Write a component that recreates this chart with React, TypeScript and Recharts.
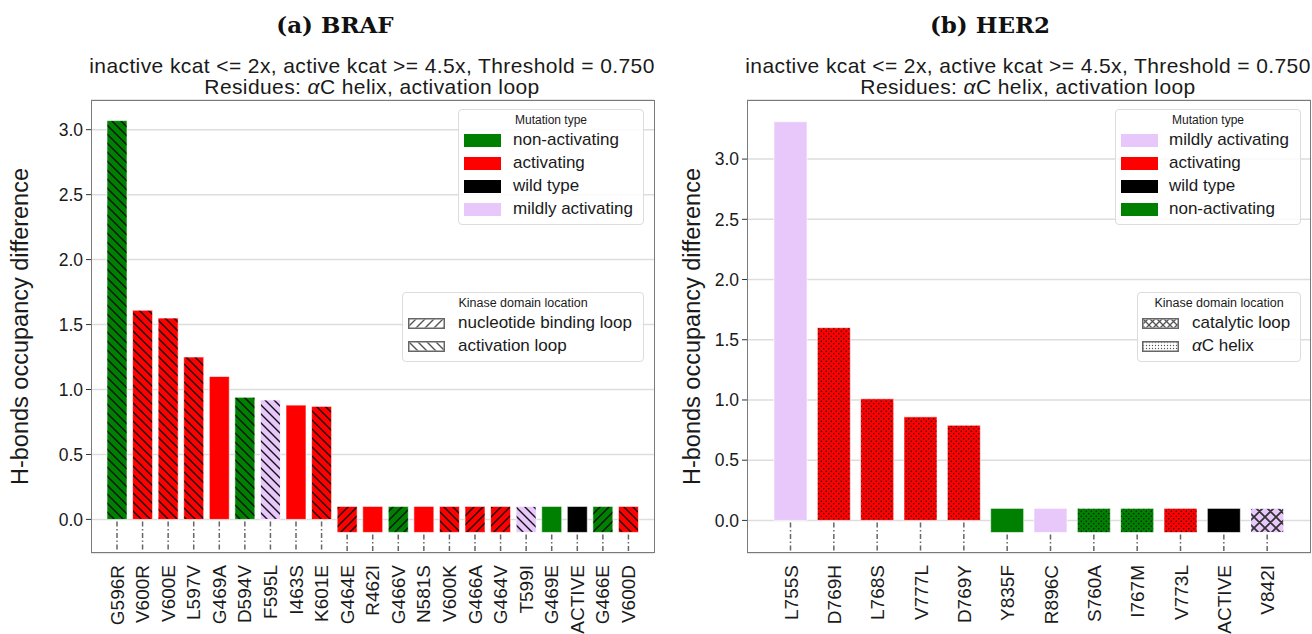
import React from 'react';
import { BarChart, Bar, XAxis, YAxis, CartesianGrid } from 'recharts';

// ---------------- DATA ----------------
const brafCategories = ['G596R', 'V600R', 'V600E', 'L597V', 'G469A', 'D594V', 'F595L', 'I463S', 'K601E', 'G464E', 'R462I', 'G466V', 'N581S', 'V600K', 'G466A', 'G464V', 'T599I', 'G469E', 'ACTIVE', 'G466E', 'V600D'];
const brafTop = [3.07, 1.61, 1.55, 1.25, 1.1, 0.94, 0.92, 0.88, 0.87, 0.1, 0.1, 0.1, 0.1, 0.1, 0.1, 0.1, 0.1, 0.1, 0.1, 0.1, 0.1];
const brafBottom = [0, 0, 0, 0, 0, 0, 0, 0, 0, -0.1, -0.1, -0.1, -0.1, -0.1, -0.1, -0.1, -0.1, -0.1, -0.1, -0.1, -0.1];
const brafType = ['non-activating', 'activating', 'activating', 'activating', 'activating', 'non-activating', 'mildly activating', 'activating', 'activating', 'activating', 'activating', 'non-activating', 'activating', 'activating', 'activating', 'activating', 'mildly activating', 'non-activating', 'wild type', 'non-activating', 'activating'];
const brafLocation = ['activation loop', 'activation loop', 'activation loop', 'activation loop', 'none', 'activation loop', 'activation loop', 'none', 'activation loop', 'nucleotide binding loop', 'none', 'nucleotide binding loop', 'none', 'activation loop', 'nucleotide binding loop', 'nucleotide binding loop', 'activation loop', 'none', 'none', 'nucleotide binding loop', 'activation loop'];

const her2Categories = ['L755S', 'D769H', 'L768S', 'V777L', 'D769Y', 'Y835F', 'R896C', 'S760A', 'I767M', 'V773L', 'ACTIVE', 'V842I'];
const her2Top = [3.31, 1.6, 1.01, 0.86, 0.79, 0.1, 0.1, 0.1, 0.1, 0.1, 0.1, 0.1];
const her2Bottom = [0, 0, 0, 0, 0, -0.1, -0.1, -0.1, -0.1, -0.1, -0.1, -0.1];
const her2Type = ['mildly activating', 'activating', 'activating', 'activating', 'activating', 'non-activating', 'mildly activating', 'non-activating', 'non-activating', 'activating', 'wild type', 'mildly activating'];
const her2Location = ['none', 'αC helix', 'αC helix', 'αC helix', 'αC helix', 'none', 'none', 'αC helix', 'αC helix', 'αC helix', 'none', 'catalytic loop'];

const yTicks = [0, 0.5, 1.0, 1.5, 2.0, 2.5, 3.0];
const brafDomain = [-0.2585, 3.2285];
const her2Domain = [-0.2705, 3.4905];

const brafTypeLegend = ['non-activating', 'activating', 'wild type', 'mildly activating'];
const brafLocLegend = ['nucleotide binding loop', 'activation loop'];
const her2TypeLegend = ['mildly activating', 'activating', 'wild type', 'non-activating'];
const her2LocLegend = ['catalytic loop', 'αC helix'];

const subtitle1 = 'inactive kcat <= 2x, active kcat >= 4.5x, Threshold = 0.750';
const yLabel = 'H-bonds occupancy difference';

// ---------------- STYLE ----------------
const FONT = '"Liberation Sans", Arial, Helvetica, sans-serif';
const TEXT = '#1a1a1a';
const COLORS: Record<string, string> = {
  'non-activating': '#008000',
  activating: '#ff0000',
  'wild type': '#000000',
  'mildly activating': '#e8c8fb',
};
const PATTERNS: Record<string, string> = {
  'nucleotide binding loop': 'hatchFwd',
  'activation loop': 'hatchBack',
  'catalytic loop': 'crossHatch',
  'αC helix': 'dots',
};

const buildRows = (cats: string[], top: number[], bottom: number[], type: string[], loc: string[]) =>
  cats.map((name, i) => ({ name, range: [bottom[i], top[i]], type: type[i], location: loc[i] }));

const brafData = buildRows(brafCategories, brafTop, brafBottom, brafType, brafLocation);
const her2Data = buildRows(her2Categories, her2Top, her2Bottom, her2Type, her2Location);

const BarShape = (props: any) => {
  const { x, y, width, height, payload, background } = props;
  const top = Math.min(y, y + height);
  const h = Math.abs(height);
  const bottom = top + h;
  const plotBottom = background ? background.y + background.height : bottom + 30;
  const cx = x + width / 2;
  const pat = PATTERNS[payload.location];
  return (
    <g>
      <rect x={x} y={top} width={width} height={h} fill={COLORS[payload.type]} stroke="rgba(255,255,255,0.6)" strokeWidth={1} />
      {pat && <rect x={x + 0.5} y={top + 0.5} width={Math.max(0, width - 1)} height={Math.max(0, h - 1)} fill={`url(#${pat})`} />}
      <line x1={cx} x2={cx} y1={bottom + 2} y2={plotBottom} stroke="#666" strokeWidth={1.5} strokeDasharray="5 2.5 1.5 2.5" />
    </g>
  );
};

const XTick = (props: any) => {
  const { x, y, payload } = props;
  return (
    <text x={0} y={0} transform={`translate(${x},${y}) rotate(-90)`} textAnchor="end" dy="0.36em" fontSize={19} fill={TEXT} fontFamily={FONT}>
      {payload.value}
    </text>
  );
};

const YLabel = (cx: number) => (props: any) => {
  const vb = props.viewBox || { y: 100, height: 453 };
  const cy = vb.y + vb.height / 2;
  return (
    <text x={cx} y={cy} transform={`rotate(-90, ${cx}, ${cy})`} textAnchor="middle" fontSize={23.5} fill={TEXT} fontFamily={FONT}>
      {yLabel}
    </text>
  );
};

const Defs = () => (
  <svg width={0} height={0} style={{ position: 'absolute' }}>
    <defs>
      <pattern id="hatchFwd" patternUnits="userSpaceOnUse" width={9} height={9}>
        <path d="M0,9 L9,0 M-1,1 L1,-1 M8,10 L10,8" stroke="#111" strokeWidth={1.4} />
      </pattern>
      <pattern id="hatchBack" patternUnits="userSpaceOnUse" width={9} height={9}>
        <path d="M0,0 L9,9 M-1,8 L1,10 M8,-1 L10,1" stroke="#111" strokeWidth={1.4} />
      </pattern>
      <pattern id="crossHatch" patternUnits="userSpaceOnUse" width={11} height={11}>
        <path d="M0,0 L11,11 M11,0 L0,11 M-1,10 L1,12 M10,-1 L12,1 M-1,1 L1,-1 M10,12 L12,10" stroke="#333" strokeWidth={1.8} />
      </pattern>
      <pattern id="dots" patternUnits="userSpaceOnUse" width={5} height={5}>
        <circle cx={1.25} cy={1.25} r={0.75} fill="#111" />
        <circle cx={3.75} cy={3.75} r={0.75} fill="#111" />
      </pattern>
      <pattern id="hatchFwdL" patternUnits="userSpaceOnUse" width={9} height={9}>
        <path d="M0,9 L9,0 M-1,1 L1,-1 M8,10 L10,8" stroke="#555" strokeWidth={1.4} />
      </pattern>
      <pattern id="hatchBackL" patternUnits="userSpaceOnUse" width={9} height={9}>
        <path d="M0,0 L9,9 M-1,8 L1,10 M8,-1 L10,1" stroke="#555" strokeWidth={1.4} />
      </pattern>
      <pattern id="crossHatchL" patternUnits="userSpaceOnUse" width={7} height={7}>
        <path d="M0,0 L7,7 M7,0 L0,7" stroke="#555" strokeWidth={1.3} />
      </pattern>
      <pattern id="dotsL" patternUnits="userSpaceOnUse" width={3} height={3}>
        <circle cx={1.5} cy={1.5} r={0.7} fill="#555" />
      </pattern>
    </defs>
  </svg>
);

type LegendProps = {
  left: number; top: number; width: number; height: number;
  title: string; titleSize: number; items: string[]; mode: 'color' | 'pattern';
  patchLeft: number; patchH: number; textLeft: number; rowStart: number;
};

const LegendBox = (p: LegendProps) => (
  <div>
    <div style={{ position: 'absolute', left: p.left, top: p.top, width: p.width, height: p.height, border: '1.5px solid #dcdcdc', borderRadius: 4, background: 'rgba(255,255,255,0.85)', boxSizing: 'border-box' }} />
    <div style={{ position: 'absolute', left: p.left, top: p.top + 3, width: p.width, textAlign: 'center', fontSize: p.titleSize, lineHeight: '16px', fontFamily: FONT, color: TEXT }}>{p.title}</div>
    {p.items.map((it, i) => {
      const cy = p.rowStart + i * 23;
      return (
        <div key={it}>
          <svg style={{ position: 'absolute', left: p.patchLeft, top: cy - p.patchH / 2 }} width={37} height={p.patchH}>
            {p.mode === 'color' ? (
              <rect x={0} y={0} width={37} height={p.patchH} fill={COLORS[it]} />
            ) : (
              <g>
                <rect x={0.75} y={0.75} width={35.5} height={p.patchH - 1.5} fill="#fff" stroke="#666" strokeWidth={1.5} />
                <rect x={1.5} y={1.5} width={34} height={p.patchH - 3} fill={`url(#${PATTERNS[it]}L)`} />
              </g>
            )}
          </svg>
          <div style={{ position: 'absolute', left: p.textLeft, top: cy - 11, height: 22, lineHeight: '22px', fontSize: 17, fontFamily: FONT, color: TEXT, whiteSpace: 'nowrap' }}>
            {it === 'αC helix' ? (<span><i>α</i>C helix</span>) : it}
          </div>
        </div>
      );
    })}
  </div>
);

const subStyle: React.CSSProperties = {
  position: 'absolute', width: 700, height: 21, textAlign: 'center', fontFamily: FONT, fontSize: 21,
  lineHeight: '21px', letterSpacing: 0.4, color: TEXT, whiteSpace: 'nowrap',
};

const Titles = ({ cx, subCx, label }: { cx: number; subCx: number; label: React.ReactNode }) => (
  <div>
    <div style={{ position: 'absolute', left: cx - 150, width: 300, top: 11, textAlign: 'center', fontFamily: '"DejaVu Serif", serif', fontWeight: 'bold', fontSize: 23, lineHeight: '28px', color: '#111' }}>{label}</div>
    <div style={{ ...subStyle, left: subCx - 350, top: 55 }}>{subtitle1}</div>
    <div style={{ ...subStyle, left: subCx - 350, top: 76 }}>
      Residues: <i>α</i>C helix, activation loop
    </div>
  </div>
);

const Frame = ({ left, right }: { left: number; right: number }) => (
  <div style={{ position: 'absolute', left, top: 100, width: right - left, height: 453, border: '1.8px solid #7a7a7a', boxSizing: 'border-box', pointerEvents: 'none' }} />
);

export default function App() {
  return (
    <div style={{ position: 'absolute', left: 0, top: 0, width: 1312, height: 634, background: '#fff', overflow: 'hidden' }}>
      <Defs />
      <Titles cx={335} subCx={372} label={<span>(a) BRAF</span>} />
      <Titles cx={990} subCx={1028} label={<span>(b) HER2</span>} />

      <div style={{ position: 'absolute', left: 0, top: 0 }}>
        <BarChart width={660} height={634} data={brafData} margin={{ top: 100, right: 6, bottom: 0, left: 0 }}>
          <CartesianGrid horizontal vertical={false} stroke="#dddddd" strokeWidth={1.5} />
          <XAxis dataKey="name" interval={0} tickLine={false} axisLine={false} tickSize={0} tickMargin={12} height={81} padding={{ left: 13, right: 13 }} tick={<XTick />} />
          <YAxis width={91} domain={brafDomain} ticks={yTicks} type="number" allowDataOverflow axisLine={false} tickSize={5} tickMargin={3} tickLine={{ stroke: '#333' }} tickFormatter={(v: number) => v.toFixed(1)} tick={{ fontSize: 17.5, fill: TEXT, fontFamily: FONT }} label={{ content: YLabel(28) }} />
          <Bar dataKey="range" barSize={20} isAnimationActive={false} shape={<BarShape />} />
        </BarChart>
      </div>

      <div style={{ position: 'absolute', left: 660, top: 0 }}>
        <BarChart width={652} height={634} data={her2Data} margin={{ top: 100, right: 1, bottom: 0, left: 0 }}>
          <CartesianGrid horizontal vertical={false} stroke="#dddddd" strokeWidth={1.5} />
          <XAxis dataKey="name" interval={0} tickLine={false} axisLine={false} tickSize={0} tickMargin={12} height={81} padding={{ left: 22, right: 22 }} tick={<XTick />} />
          <YAxis width={87} domain={her2Domain} ticks={yTicks} type="number" allowDataOverflow axisLine={false} tickSize={5} tickMargin={3} tickLine={{ stroke: '#333' }} tickFormatter={(v: number) => v.toFixed(1)} tick={{ fontSize: 17.5, fill: TEXT, fontFamily: FONT }} label={{ content: YLabel(40) }} />
          <Bar dataKey="range" barSize={33} isAnimationActive={false} shape={<BarShape />} />
        </BarChart>
      </div>

      <Frame left={91} right={655} />
      <Frame left={747} right={1311} />

      <LegendBox left={458} top={109} width={186} height={116} title="Mutation type" titleSize={12} items={brafTypeLegend} mode="color" patchLeft={464} patchH={13} textLeft={513} rowStart={140} />
      <LegendBox left={402} top={292} width={242} height={70} title="Kinase domain location" titleSize={12.5} items={brafLocLegend} mode="pattern" patchLeft={408} patchH={11} textLeft={458} rowStart={323} />
      <LegendBox left={1115} top={109} width={186} height={116} title="Mutation type" titleSize={12} items={her2TypeLegend} mode="color" patchLeft={1121} patchH={13} textLeft={1169} rowStart={140} />
      <LegendBox left={1137} top={292} width={164} height={70} title="Kinase domain location" titleSize={12.5} items={her2LocLegend} mode="pattern" patchLeft={1142} patchH={11} textLeft={1192} rowStart={323} />
    </div>
  );
}
